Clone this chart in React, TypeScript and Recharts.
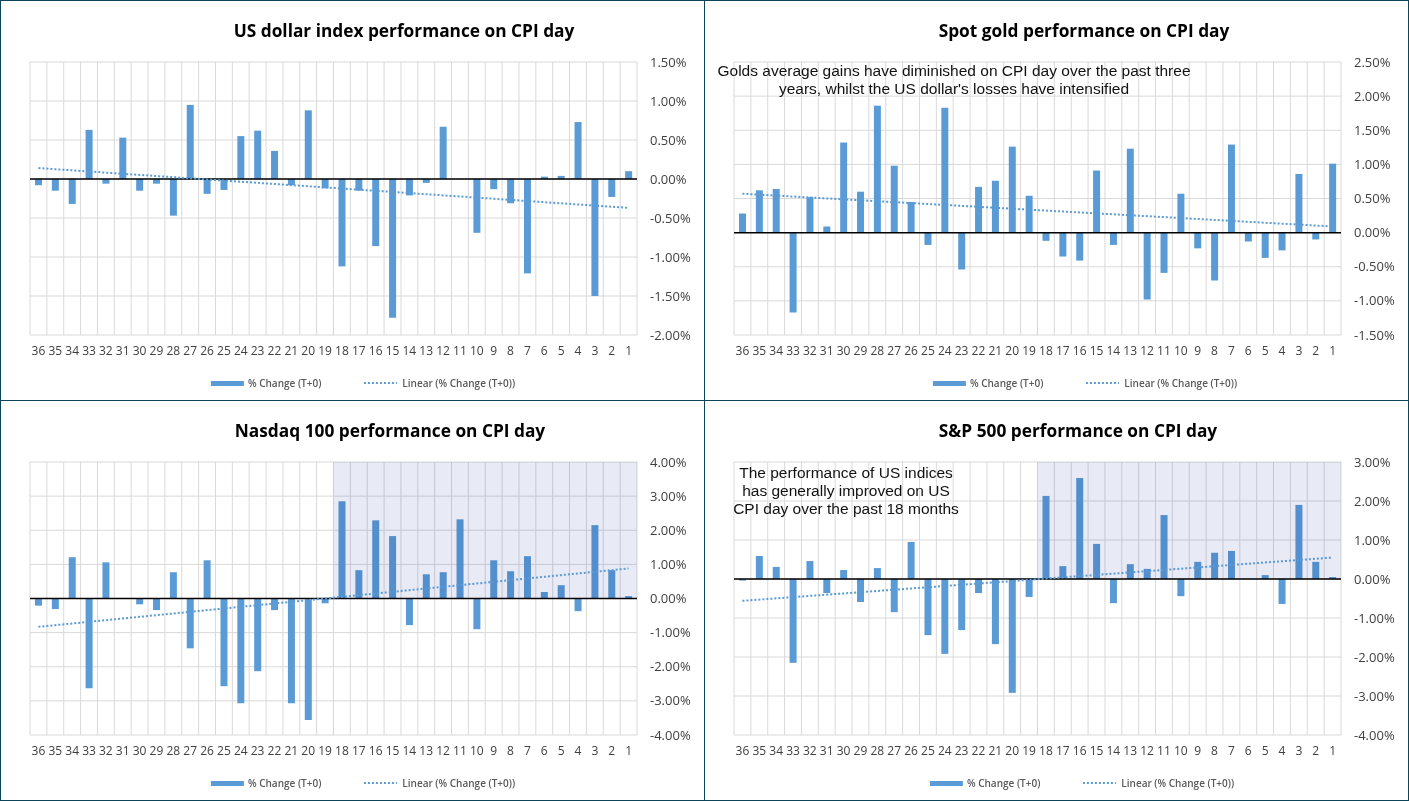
import React from 'react';
import {
  ComposedChart,
  Bar,
  XAxis,
  YAxis,
  CartesianGrid,
  ReferenceLine,
  ReferenceArea,
} from 'recharts';

// CPI releases, counted back from the latest (1)
const categories = [
  '36', '35', '34', '33', '32', '31', '30', '29', '28', '27', '26', '25',
  '24', '23', '22', '21', '20', '19', '18', '17', '16', '15', '14', '13',
  '12', '11', '10', '9', '8', '7', '6', '5', '4', '3', '2', '1',
];

const usdChange = [
  -0.08, -0.15, -0.32, 0.63, -0.06, 0.53, -0.15, -0.06, -0.47, 0.95, -0.19, -0.14,
  0.55, 0.62, 0.36, -0.08, 0.88, -0.12, -1.12, -0.15, -0.86, -1.78, -0.21, -0.05,
  0.67, 0, -0.69, -0.13, -0.31, -1.21, 0.03, 0.04, 0.73, -1.5, -0.23, 0.1,
];
const goldChange = [
  0.28, 0.62, 0.64, -1.17, 0.52, 0.09, 1.32, 0.6, 1.86, 0.98, 0.45, -0.18,
  1.83, -0.54, 0.67, 0.76, 1.26, 0.54, -0.12, -0.35, -0.41, 0.91, -0.18, 1.23,
  -0.98, -0.59, 0.57, -0.23, -0.7, 1.29, -0.13, -0.37, -0.26, 0.86, -0.1, 1.01,
];
const nasdaqChange = [
  -0.21, -0.31, 1.21, -2.63, 1.06, 0, -0.17, -0.34, 0.77, -1.46, 1.12, -2.57,
  -3.07, -2.13, -0.34, -3.07, -3.56, -0.14, 2.85, 0.83, 2.29, 1.83, -0.78, 0.71,
  0.77, 2.32, -0.9, 1.12, 0.8, 1.24, 0.19, 0.39, -0.37, 2.15, 0.83, 0.07,
];
const spxChange = [
  -0.04, 0.59, 0.31, -2.15, 0.46, -0.36, 0.23, -0.59, 0.28, -0.85, 0.95, -1.44,
  -1.92, -1.31, -0.36, -1.67, -2.92, -0.46, 2.13, 0.33, 2.59, 0.9, -0.62, 0.38,
  0.26, 1.64, -0.44, 0.44, 0.67, 0.72, 0, 0.1, -0.64, 1.9, 0.44, 0.05,
];

// linear trend, value at first (36) and last (1) release
const usdTrend = [0.14, -0.37];
const goldTrend = [0.57, 0.09];
const nasdaqTrend = [-0.83, 0.88];
const spxTrend = [-0.56, 0.55];

const usdTicks = [-2, -1.5, -1, -0.5, 0, 0.5, 1, 1.5];
const goldTicks = [-1.5, -1, -0.5, 0, 0.5, 1, 1.5, 2, 2.5];
const nasdaqTicks = [-4, -3, -2, -1, 0, 1, 2, 3, 4];
const spxTicks = [-4, -3, -2, -1, 0, 1, 2, 3];

const goldNote = [
  'Golds average gains have diminished on CPI day over the past three',
  "years, whilst the US dollar's losses have intensified",
];
const spxNote = [
  'The performance of US indices',
  'has generally improved on US',
  'CPI day over the past 18 months',
];

const BAR_COLOR = '#5B9BD5';
const GRID_COLOR = '#D9D9D9';
const FRAME_COLOR = '#0E4459';
const AXIS_FONT = '"Open Sans", sans-serif';

interface PanelProps {
  left: number;
  top: number;
  title: string;
  titleX: number;
  values: number[];
  trend: number[];
  ticks: number[];
  shaded?: boolean;
  note?: string[];
  noteX?: number;
  noteY?: number;
  noteLine?: number;
  legendX: number;
}

function Legend({ x }: { x: number }) {
  const text: React.CSSProperties = {
    fontFamily: AXIS_FONT,
    fontSize: 10,
    fontWeight: 600,
    color: '#595959',
    whiteSpace: 'nowrap',
  };
  return (
    <div
      style={{
        position: 'absolute',
        left: x,
        top: 376,
        transform: 'translateX(-50%)',
        display: 'flex',
        alignItems: 'center',
        height: 14,
      }}
    >
      <span style={{ width: 33, height: 5, background: BAR_COLOR, marginRight: 4 }} />
      <span style={text}>% Change (T+0)</span>
      <svg width={33} height={4} style={{ marginLeft: 43, marginRight: 5 }}>
        <line x1={0} y1={2} x2={33} y2={2} stroke={BAR_COLOR} strokeWidth={2} strokeDasharray="2 2" />
      </svg>
      <span style={text}>Linear (% Change (T+0))</span>
    </div>
  );
}

function Panel(props: PanelProps) {
  const { values, trend, ticks } = props;
  const data = categories.map((cat, i) => ({ cat, value: values[i] }));
  const first = categories[0];
  const last = categories[categories.length - 1];

  return (
    <div style={{ position: 'absolute', left: props.left, top: props.top, width: 704, height: 400 }}>
      <div
        style={{
          position: 'absolute',
          left: props.titleX,
          top: 19,
          transform: 'translateX(-50%)',
          fontFamily: AXIS_FONT,
          fontWeight: 700,
          fontSize: 17.3,
          color: '#000',
          whiteSpace: 'nowrap',
        }}
      >
        {props.title}
      </div>
      <ComposedChart
        width={704}
        height={400}
        data={data}
        margin={{ top: 62, right: 0, left: 30, bottom: 35 }}
      >
        <CartesianGrid
          stroke={GRID_COLOR}
          verticalCoordinatesGenerator={({ offset }: any) =>
            Array.from({ length: categories.length + 1 }, (_, i) =>
              offset.left + (offset.width * i) / categories.length,
            )
          }
        />
        {props.shaded && (
          <ReferenceArea
            x1="18"
            x2={last}
            y1={0}
            y2={ticks[ticks.length - 1]}
            fill="#E8EAF6"
            fillOpacity={1}
            className="shade"
            ifOverflow="visible"
            zIndex={350}
          />
        )}
        <XAxis
          dataKey="cat"
          interval={0}
          axisLine={false}
          tickLine={false}
          tickSize={0}
          tickMargin={11}
          height={30}
          tick={{ fill: '#404040', fontSize: 12, fontFamily: AXIS_FONT }}
        />
        <YAxis
          orientation="right"
          width={67}
          domain={[ticks[0], ticks[ticks.length - 1]]}
          ticks={ticks}
          interval={0}
          axisLine={false}
          tickLine={false}
          tickSize={0}
          tickMargin={13}
          tick={{ fill: '#404040', fontSize: 13, fontFamily: AXIS_FONT, textAnchor: 'start' }}
          tickFormatter={(v: number) => `${v.toFixed(2)}%`}
        />
        <Bar dataKey="value" fill={BAR_COLOR} barSize={7} isAnimationActive={false} />
        <ReferenceLine y={0} stroke="#000" strokeWidth={1.5} zIndex={400} />
        <ReferenceLine
          segment={[
            { x: first, y: trend[0] },
            { x: last, y: trend[1] },
          ]}
          stroke={BAR_COLOR}
          strokeWidth={2}
          strokeDasharray="2 2"
          ifOverflow="visible"
          zIndex={450}
        />
      </ComposedChart>
      {props.note && (
        <div
          style={{
            position: 'absolute',
            left: props.noteX,
            top: props.noteY,
            transform: 'translateX(-50%)',
            fontFamily: '"Liberation Sans", Arial, sans-serif',
            fontSize: 15.5,
            lineHeight: `${props.noteLine}px`,
            color: '#111',
            textAlign: 'center',
            whiteSpace: 'nowrap',
          }}
        >
          {props.note.map((line) => (
            <div key={line}>{line}</div>
          ))}
        </div>
      )}
      <Legend x={props.legendX} />
    </div>
  );
}

export default function App() {
  return (
    <div
      style={{
        position: 'absolute',
        left: 0,
        top: 0,
        width: 1409,
        height: 801,
        background: '#fff',
        boxSizing: 'border-box',
        border: `1px solid ${FRAME_COLOR}`,
        overflow: 'hidden',
      }}
    >
      <style>{'.shade { mix-blend-mode: multiply; }'}</style>
      <Panel
        left={-1}
        top={-1}
        title="US dollar index performance on CPI day"
        titleX={404}
        values={usdChange}
        trend={usdTrend}
        ticks={usdTicks}
        legendX={363}
      />
      <Panel
        left={703}
        top={-1}
        title="Spot gold performance on CPI day"
        titleX={380}
        values={goldChange}
        trend={goldTrend}
        ticks={goldTicks}
        note={goldNote}
        noteX={250}
        noteY={62}
        noteLine={17.6}
        legendX={381}
      />
      <Panel
        left={-1}
        top={399}
        title="Nasdaq 100 performance on CPI day"
        titleX={390}
        values={nasdaqChange}
        trend={nasdaqTrend}
        ticks={nasdaqTicks}
        shaded
        legendX={363}
      />
      <Panel
        left={703}
        top={399}
        title="S&P 500 performance on CPI day"
        titleX={374}
        values={spxChange}
        trend={spxTrend}
        ticks={spxTicks}
        shaded
        note={spxNote}
        noteX={142}
        noteY={64}
        noteLine={18}
        legendX={378}
      />
      <div style={{ position: 'absolute', left: 703, top: 0, width: 1, height: 801, background: FRAME_COLOR }} />
      <div style={{ position: 'absolute', left: 0, top: 399, width: 1409, height: 1, background: FRAME_COLOR }} />
    </div>
  );
}
